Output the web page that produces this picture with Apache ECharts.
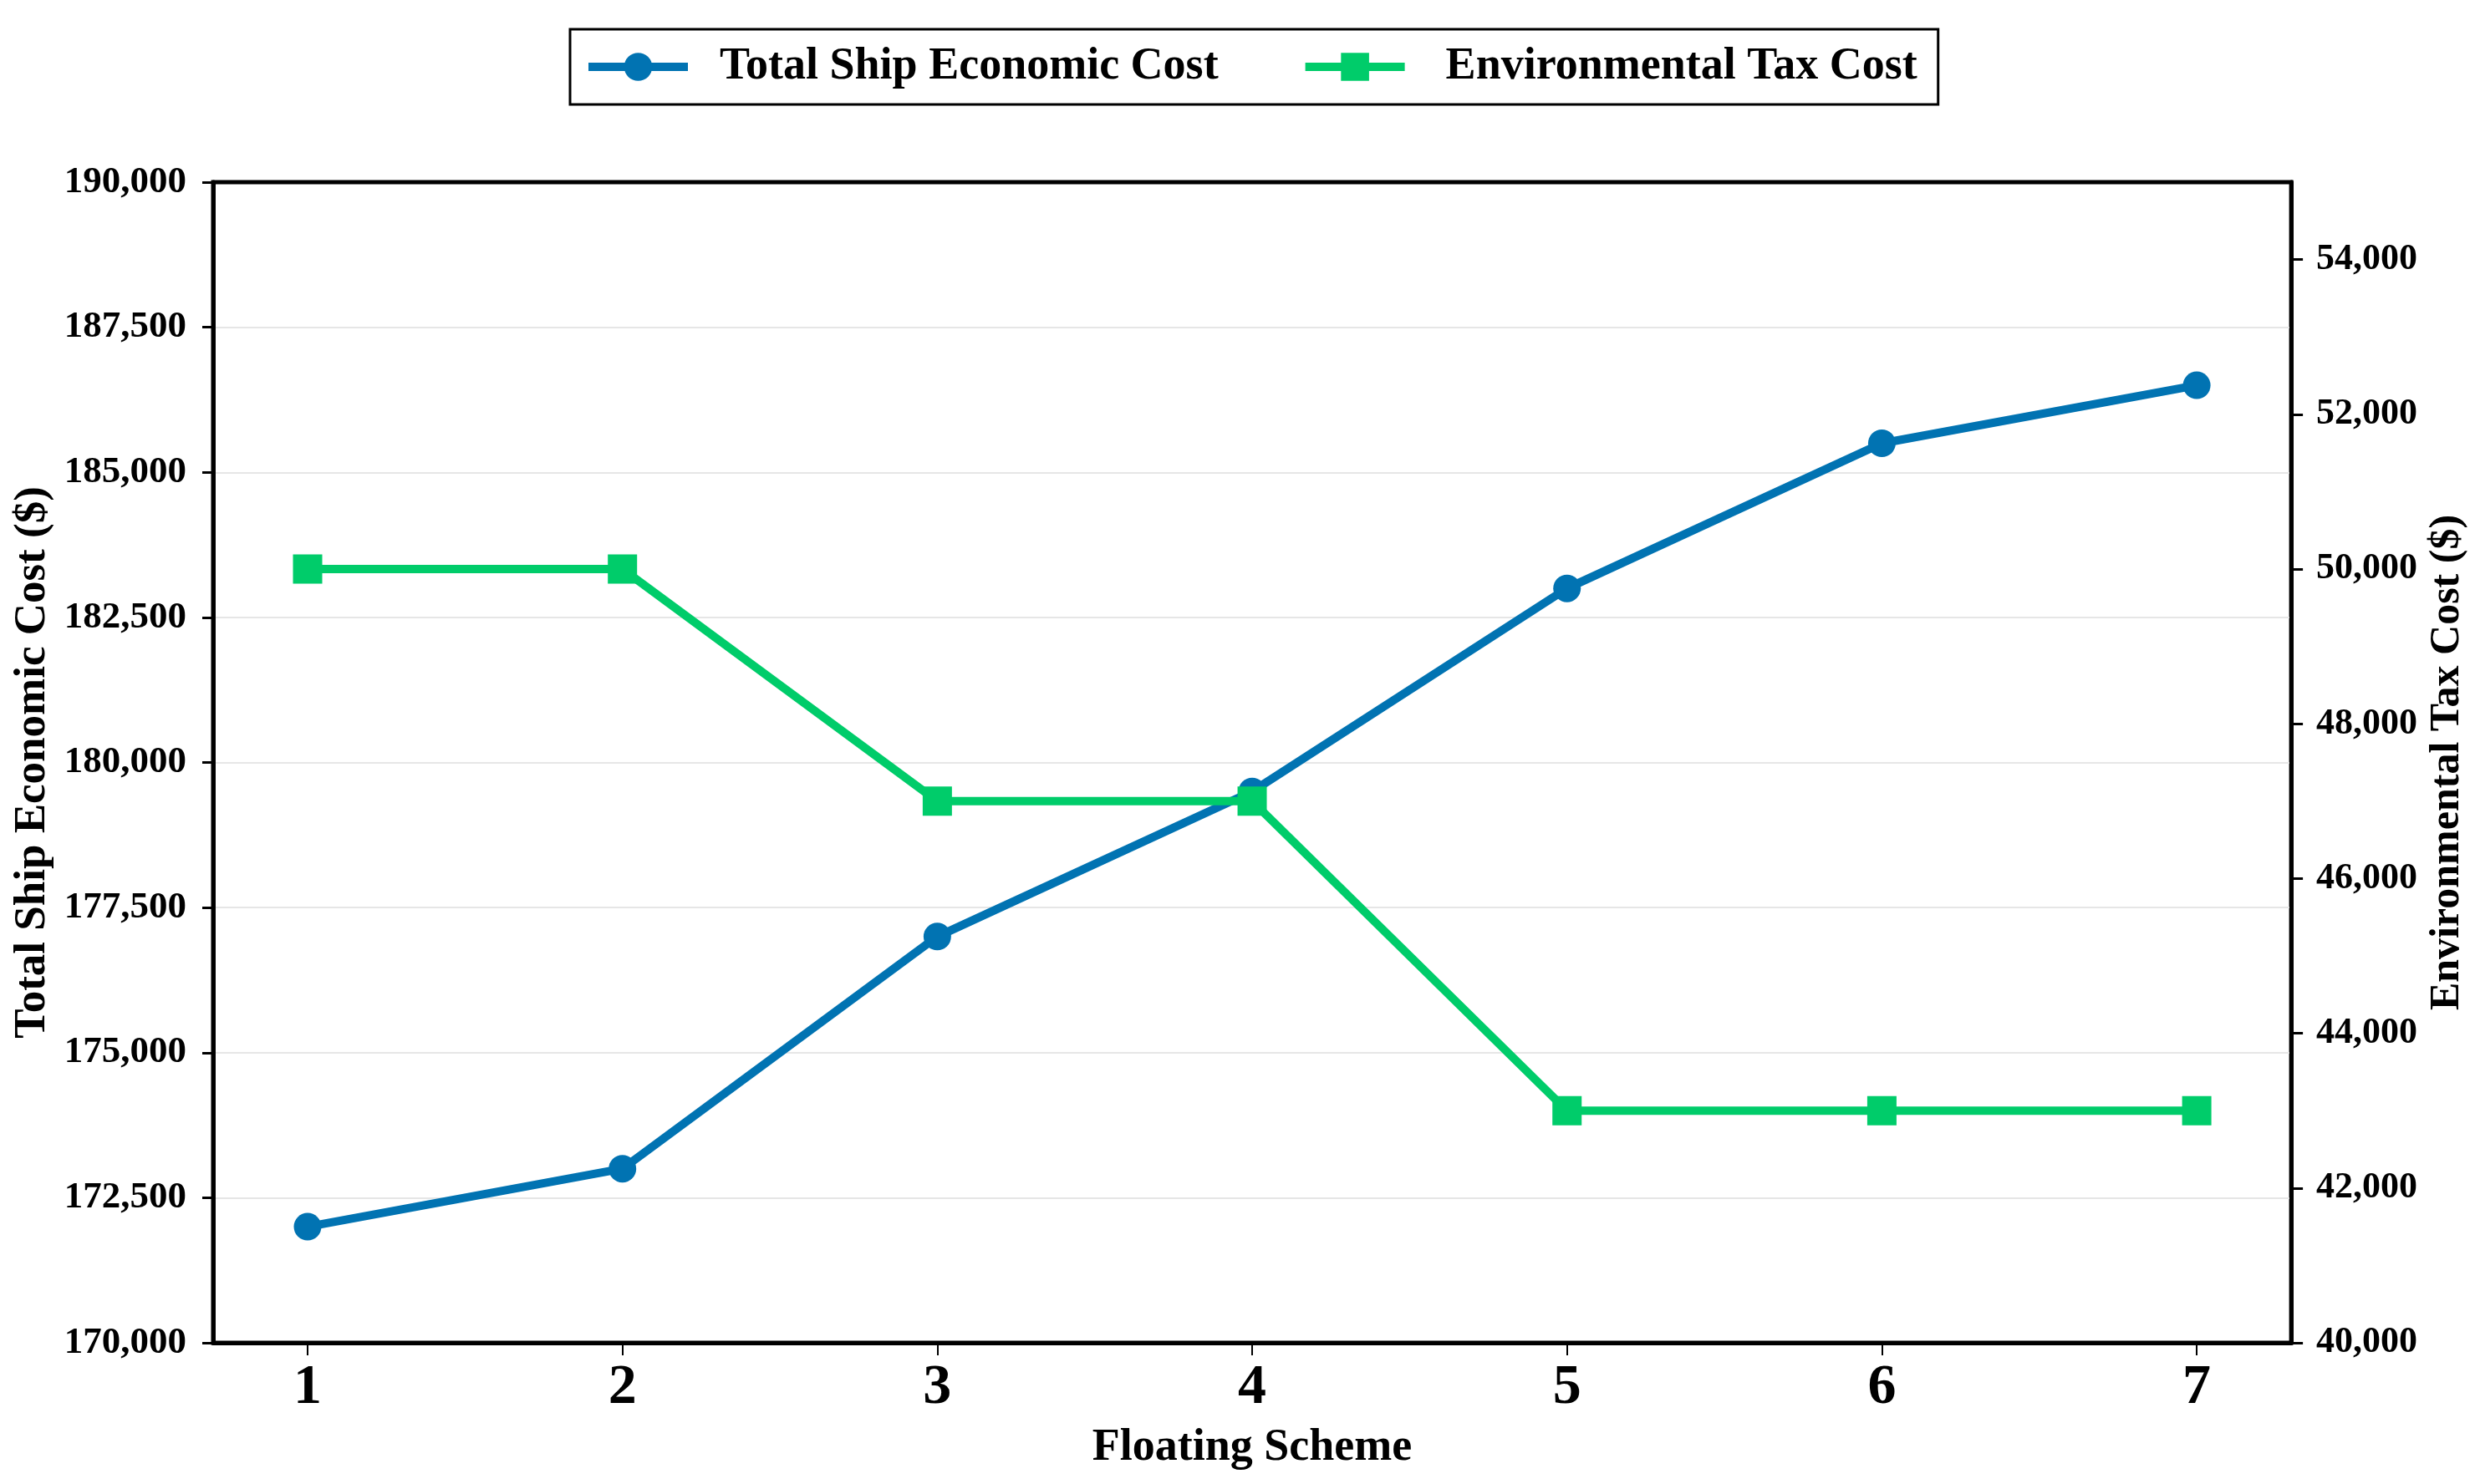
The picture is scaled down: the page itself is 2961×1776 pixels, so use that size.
<!DOCTYPE html>
<html>
<head>
<meta charset="utf-8">
<script src="https://cdn.jsdelivr.net/npm/echarts@6/dist/echarts.min.js"></script>
<style>
  html, body { margin: 0; padding: 0; background: #ffffff; }
  #chart { width: 2961px; height: 1776px; }
</style>
</head>
<body>
<div id="chart"></div>
<script>
// ---- data ----
const schemes = [1, 2, 3, 4, 5, 6, 7];
const totalShipCost = [172000, 173000, 177000, 179500, 183000, 185500, 186500];
const envTaxCost = [50000, 50000, 47000, 47000, 43000, 43000, 43000];
const leftTicks = [170000, 172500, 175000, 177500, 180000, 182500, 185000, 187500, 190000];
const rightTicks = [40000, 42000, 44000, 46000, 48000, 50000, 52000, 54000];
const seriesNames = ['Total Ship Economic Cost', 'Environmental Tax Cost'];

const FONT = "'Liberation Serif', 'Times New Roman', serif";
const BLUE = '#0173B2';
const GREEN = '#00CC6A';
const fmt = v => Number(v).toLocaleString('en-US');

const chart = echarts.init(document.getElementById('chart'), null, { renderer: 'canvas' });

const legendText = { fontFamily: FONT, fontWeight: 'bold', fontSize: 54, color: '#000' };

chart.setOption({
  backgroundColor: '#ffffff',
  animation: false,
  textStyle: { fontFamily: FONT },
  legend: {
    left: 682,
    top: 35,
    padding: [18, 25, 18, 17],
    borderColor: '#000',
    borderWidth: 3,
    itemWidth: 119,
    itemHeight: 42,
    itemGap: 99,
    lineStyle: { width: 10 },
    textStyle: Object.assign({ padding: [0, 0, 0, 33] }, legendText),
    data: [
      { name: seriesNames[0], lineStyle: { width: 10, color: BLUE }, textStyle: Object.assign({ padding: [0, 0, 0, 33] }, legendText) },
      { name: seriesNames[1], lineStyle: { width: 10, color: GREEN }, textStyle: Object.assign({ padding: [0, 0, 0, 44] }, legendText) }
    ]
  },
  grid: {
    left: 255, right: 219, top: 218, bottom: 169,
    show: true, borderColor: '#000', borderWidth: 5, containLabel: false
  },
  xAxis: {
    type: 'value',
    min: 0.7, max: 7.3,
    name: 'Floating Scheme',
    nameLocation: 'middle',
    nameGap: 99,
    nameTextStyle: { fontFamily: FONT, fontWeight: 'bold', fontSize: 54, color: '#000' },
    axisLine: { show: true, lineStyle: { color: '#000', width: 5 } },
    axisTick: { show: true, length: 15, lineStyle: { color: '#000', width: 2 }, customValues: schemes },
    axisLabel: { fontFamily: FONT, fontWeight: 'bold', fontSize: 68, color: '#000', margin: 20, customValues: schemes, formatter: v => String(v) },
    splitLine: { show: false }
  },
  yAxis: [
    {
      type: 'value',
      position: 'left',
      min: 170000, max: 190000, interval: 2500,
      name: 'Total Ship Economic Cost ($)',
      nameLocation: 'middle',
      nameGap: 182,
      nameTextStyle: { fontFamily: FONT, fontWeight: 'bold', fontSize: 53, color: '#000' },
      axisLine: { show: true, lineStyle: { color: '#000', width: 5 } },
      axisTick: { show: true, length: 13, lineStyle: { color: '#000', width: 3 }, customValues: leftTicks },
      axisLabel: { fontFamily: FONT, fontWeight: 'bold', fontSize: 45, color: '#000', margin: 32, customValues: leftTicks, formatter: fmt },
      splitLine: { show: true, showMinLine: false, showMaxLine: false, lineStyle: { color: '#e6e6e6', width: 2 } }
    },
    {
      type: 'value',
      position: 'right',
      min: 40000, max: 55000, interval: 1000,
      name: 'Environmental Tax Cost ($)',
      nameLocation: 'middle',
      nameGap: 149,
      nameTextStyle: { fontFamily: FONT, fontWeight: 'bold', fontSize: 50, color: '#000' },
      axisLine: { show: true, lineStyle: { color: '#000', width: 5 } },
      axisTick: { show: true, length: 14, lineStyle: { color: '#000', width: 3 }, customValues: rightTicks },
      axisLabel: { fontFamily: FONT, fontWeight: 'bold', fontSize: 44, color: '#000', margin: 30, customValues: rightTicks, formatter: fmt },
      splitLine: { show: false }
    }
  ],
  series: [
    {
      name: seriesNames[0],
      type: 'line',
      yAxisIndex: 0,
      data: schemes.map((s, i) => [s, totalShipCost[i]]),
      symbol: 'circle',
      symbolSize: 33,
      lineStyle: { color: BLUE, width: 10 },
      itemStyle: { color: BLUE },
      z: 2
    },
    {
      name: seriesNames[1],
      type: 'line',
      yAxisIndex: 1,
      data: schemes.map((s, i) => [s, envTaxCost[i]]),
      symbol: 'rect',
      symbolSize: 35,
      lineStyle: { color: GREEN, width: 10 },
      itemStyle: { color: GREEN },
      z: 3
    }
  ]
});
</script>
</body>
</html>
